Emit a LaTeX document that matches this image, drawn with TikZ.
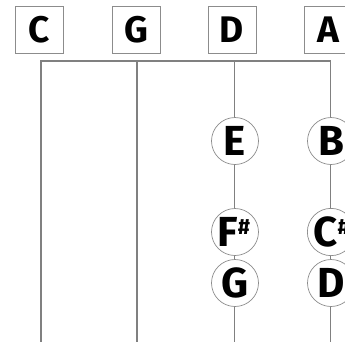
\documentclass[tikz,border=0pt]{standalone}
\usepackage{fontspec}
\setmainfont{Fira Sans}
\newcommand{\mysharp}{\raisebox{12pt}{\fontsize{22}{22}\selectfont\kern0.5pt\#}}
\begin{document}
\begin{tikzpicture}[x=1pt,y=-1pt,
  strbox/.style={draw=black!45,line width=0.8pt,minimum width=48pt,minimum height=47pt,inner sep=0pt,font=\fontsize{37}{37}\selectfont\bfseries},
  note/.style={circle,draw=black!45,line width=0.7pt,fill=white,minimum size=47pt,inner sep=0pt,font=\fontsize{42}{42}\selectfont\bfseries},
  strline/.style={draw=black!50}]
\useasboundingbox (0,0) rectangle (345,349);
\node[strbox] (bC) at (39,30) {C};
\node[strbox] (bG) at (136,30) {G};
\node[strbox] (bD) at (232,30) {D};
\node[strbox] (bA) at (328,30) {A};
\coordinate (nC) at (41,61);
\coordinate (nG) at (137,61);
\coordinate (nD) at (234,61);
\coordinate (nA) at (330,61);
\coordinate (eC) at (41,342);
\coordinate (eG) at (137,342);
\coordinate (eD) at (234,342);
\coordinate (eA) at (330,342);
\draw[strline,line width=2pt] (nC) -- (eC);
\draw[strline,line width=1.4pt] (nG) -- (eG);
\draw[strline,line width=0.9pt] (nD) -- (eD);
\draw[strline,line width=0.8pt] (nA) -- (eA);
\draw[draw=black!50,line width=2.6pt] ([xshift=-1pt]nC) -- ([xshift=1pt]nA);
\node[note] (E) at (235,141) {E};
\node[note,text width=36pt,align=left] (Fs) at (235,232) {F\mysharp};
\node[note] (Gn) at (235,283) {G};
\node[note] (B) at (331,141) {B};
\node[note,text width=36pt,align=left] (Cs) at (331,232) {C\mysharp};
\node[note] (Dn) at (331,283) {D};
\end{tikzpicture}
\end{document}
